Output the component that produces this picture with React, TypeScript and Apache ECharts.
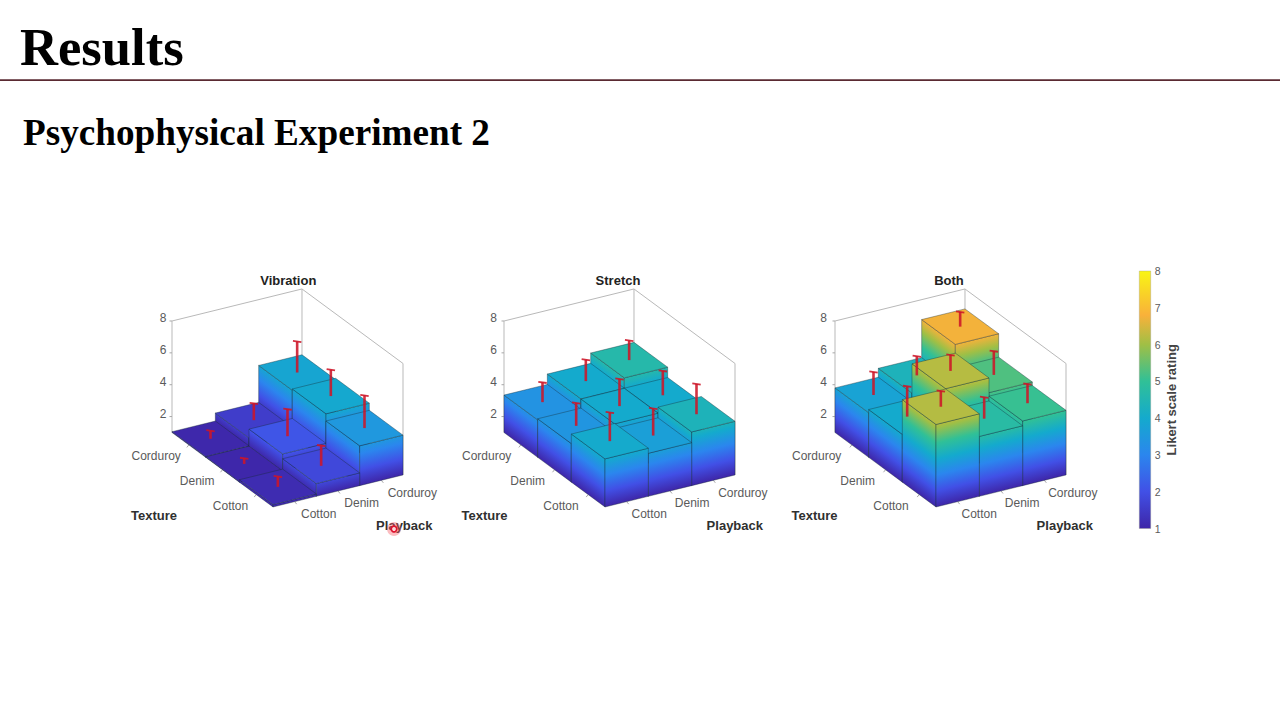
import React, { useEffect, useRef } from "react";
import * as echarts from "echarts";

const slideTitle = "Results";
const slideSubtitle = "Psychophysical Experiment 2";
const panelTitles = ["Vibration", "Stretch", "Both"];
const textureLabels = ["Corduroy", "Denim", "Cotton"];
const playbackLabels = ["Cotton", "Denim", "Corduroy"];
const zTicks = [2, 4, 6, 8];
const colorbarTicks = [1, 2, 3, 4, 5, 6, 7, 8];

// rows: texture (Corduroy, Denim, Cotton); columns: playback (Cotton, Denim, Corduroy)
const vibrationValues = [
  [1.05, 1.55, 3.87],
  [1.03, 2.1, 3.95],
  [1.15, 1.8, 3.5],
];
const vibrationErrors = [
  [0.5, 1.05, 1.95],
  [0.35, 1.7, 1.65],
  [0.65, 1.27, 2.05],
];
const stretchValues = [
  [3.35, 4.0, 4.65],
  [3.42, 3.99, 4.0],
  [4.02, 3.7, 4.37],
];
const stretchErrors = [
  [1.24, 1.34, 1.23],
  [1.43, 1.7, 1.53],
  [1.8, 1.7, 1.9],
];
const bothValues = [
  [3.8, 4.36, 6.75],
  [4.0, 6.2, 5.28],
  [6.18, 4.76, 5.06],
];
const bothErrors = [
  [1.44, 1.2, 0.92],
  [1.9, 1.0, 1.49],
  [0.98, 1.34, 1.2],
];
const panelValues = [vibrationValues, stretchValues, bothValues];
const panelErrors = [vibrationErrors, stretchErrors, bothErrors];

// colour map
const mapRatings = [1, 2, 3, 4, 5, 6, 6.8, 8];
const mapColors = ["#3e26a8", "#4150e6", "#2b86ee", "#14aacd", "#30c097", "#a0bf45", "#f9b13a", "#f9f514"];

// oblique projection of the MATLAB view, in pixels
const stepPX = 43.33;
const stepPY = -10.67;
const stepTX = 33.67;
const stepTY = 24.83;
const stepZ = 15.93;
const originXs = [172, 504, 835];
const originY = 432.5;
const xMin = -2;
const xMax = 6;
const yMin = -5;
const yMax = 11;
const titleCenters = [288.3, 618, 949];
const labelShifts = [0, -1.5, -2.5];

const planeX = (p: number, t: number) => p + (t * stepTX) / stepPX;
const planeY = (p: number, t: number, z: number) => z - (stepPY * p + stepTY * t) / stepZ;

function mix(a: string, b: string, f: number) {
  const pa = [1, 3, 5].map((i) => parseInt(a.slice(i, i + 2), 16));
  const pb = [1, 3, 5].map((i) => parseInt(b.slice(i, i + 2), 16));
  const c = pa.map((v, i) => Math.round(v + (pb[i] - v) * f));
  return `rgb(${c[0]},${c[1]},${c[2]})`;
}
function colorAt(z: number) {
  for (let i = 0; i < mapRatings.length - 1; i++) {
    if (z <= mapRatings[i + 1]) {
      return mix(mapColors[i], mapColors[i + 1], Math.max(0, (z - mapRatings[i]) / (mapRatings[i + 1] - mapRatings[i])));
    }
  }
  return mapColors[mapColors.length - 1];
}
function heightStops(top: number) {
  const span = Math.max(top - 1, 0.01);
  const stops: { offset: number; color: string }[] = [];
  mapRatings.forEach((z, i) => {
    if (z < top) stops.push({ offset: (z - 1) / span, color: mapColors[i] });
  });
  stops.push({ offset: 1, color: colorAt(top) });
  return stops;
}

const EDGE = "rgba(24,44,52,0.55)";
const FRAME = "#b9b9b9";
const TICK_TEXT = "#5a5a5a";
const RED = "rgba(205,22,40,0.88)";
const SANS = "Liberation Sans";

function sideFace(a: number[], b: number[], at: number[], bt: number[], top: number) {
  const ex = b[0] - a[0];
  const ey = b[1] - a[1];
  const len = Math.hypot(ex, ey);
  const nx = -ey / len;
  const ny = ex / len;
  const d = (at[0] - a[0]) * nx + (at[1] - a[1]) * ny;
  return {
    type: "polygon",
    shape: { points: [a, b, bt, at] },
    style: {
      fill: new echarts.graphic.LinearGradient(a[0], a[1], a[0] + nx * d, a[1] + ny * d, heightStops(top), true),
      stroke: EDGE,
      lineWidth: 0.7,
    },
  };
}

function renderBar(_: any, api: any) {
  const p = api.value(0);
  const t = api.value(1);
  const z = api.value(2);
  const at = (pp: number, tt: number, zz: number) => api.coord([planeX(pp, tt), planeY(pp, tt, zz)]);
  const top = {
    type: "polygon",
    shape: { points: [at(p, t, z), at(p + 1, t, z), at(p + 1, t + 1, z), at(p, t + 1, z)] },
    style: { fill: colorAt(z), stroke: EDGE, lineWidth: 0.7 },
  };
  return {
    type: "group",
    children: [
      sideFace(at(p, t, 1), at(p, t + 1, 1), at(p, t, z), at(p, t + 1, z), z),
      sideFace(at(p, t + 1, 1), at(p + 1, t + 1, 1), at(p, t + 1, z), at(p + 1, t + 1, z), z),
      top,
    ],
  };
}

function renderError(_: any, api: any) {
  const p = api.value(0) + 0.5;
  const t = api.value(1) + 0.5;
  const z = api.value(2);
  const e = api.value(3);
  const low = api.coord([planeX(p, t), planeY(p, t, z)]);
  const high = api.coord([planeX(p, t), planeY(p, t, z + e)]);
  return {
    type: "group",
    children: [
      { type: "line", shape: { x1: low[0], y1: low[1], x2: high[0], y2: high[1] }, style: { stroke: RED, lineWidth: 2.6 } },
      {
        type: "line",
        shape: { x1: high[0] - 4.2, y1: high[1] - 0.6, x2: high[0] + 4.2, y2: high[1] + 0.6 },
        style: { stroke: RED, lineWidth: 1.8 },
      },
    ],
  };
}

const renderFrame = (panel: number) => (_: any, api: any) => {
  const shift = labelShifts[panel];
  const at = (pp: number, tt: number, zz: number) => api.coord([planeX(pp, tt), planeY(pp, tt, zz)]);
  const seg = (a: number[], b: number[], stroke = FRAME, lineWidth = 1) => ({
    type: "line",
    shape: { x1: a[0], y1: a[1], x2: b[0], y2: b[1] },
    style: { stroke, lineWidth },
  });
  const children: any[] = [
    seg(at(0, 0, 1), at(0, 0, 8)),
    seg(at(0, 0, 8), at(3, 0, 8)),
    seg(at(3, 0, 8), at(3, 3, 8)),
    seg(at(3, 0, 1), at(3, 0, 8)),
    seg(at(3, 3, 1), at(3, 3, 8)),
  ];
  zTicks.forEach((z) => {
    const a = at(0, 0, z);
    children.push(seg(a, [a[0] - 2.5, a[1]], "#a8a8a8"));
    children.push({
      type: "text",
      x: a[0] - 5.5 + shift,
      y: a[1] - 3,
      style: { text: String(z), fill: TICK_TEXT, font: `12px "${SANS}"`, textAlign: "right", textVerticalAlign: "middle" },
    });
  });
  textureLabels.forEach((label, i) => {
    const a = at(0, i + 0.5, 1);
    children.push(seg(a, [a[0] - 2, a[1] + 2.5], "#a8a8a8"));
    children.push({
      type: "text",
      x: a[0] - 8 + shift,
      y: a[1] + 11,
      style: { text: label, fill: TICK_TEXT, font: `12px "${SANS}"`, textAlign: "right", textVerticalAlign: "middle" },
    });
  });
  playbackLabels.forEach((label, i) => {
    const a = at(i + 0.5, 3, 1);
    children.push(seg(a, [a[0] + 2, a[1] + 2.5], "#a8a8a8"));
    children.push({
      type: "text",
      x: a[0] + 6.3 + shift,
      y: a[1] + 12.3,
      style: { text: label, fill: TICK_TEXT, font: `12px "${SANS}"`, textAlign: "left", textVerticalAlign: "middle" },
    });
  });
  const origin = at(0, 0, 1);
  children.push({
    type: "text",
    x: origin[0] - 18 + shift,
    y: origin[1] + 82.5,
    style: { text: "Texture", fill: "#303030", font: `bold 13px "${SANS}"`, textAlign: "center", textVerticalAlign: "middle" },
  });
  children.push({
    type: "text",
    x: origin[0] + 232.3 + shift,
    y: origin[1] + 93,
    style: { text: "Playback", fill: "#303030", font: `bold 13px "${SANS}"`, textAlign: "center", textVerticalAlign: "middle" },
  });
  return { type: "group", children };
};

function renderColorbar(_: any, api: any) {
  const a = api.coord([0, 8]);
  const b = api.coord([1, 1]);
  const stops = mapRatings.map((z, i) => ({ offset: (8 - z) / 7, color: mapColors[i] })).reverse();
  return {
    type: "rect",
    shape: { x: a[0], y: a[1], width: b[0] - a[0], height: b[1] - a[1] },
    style: { fill: new echarts.graphic.LinearGradient(0, 0, 0, 1, stops), stroke: "rgba(150,150,130,0.6)", lineWidth: 0.6 },
  };
}

function buildOption() {
  const grids: any[] = [];
  const xAxes: any[] = [];
  const yAxes: any[] = [];
  const series: any[] = [];
  const titles: any[] = [
    {
      text: slideTitle,
      left: 20,
      top: 20,
      padding: 0,
      textStyle: { fontFamily: "Liberation Serif", fontWeight: "bold", fontSize: 52.6, color: "#000000" },
    },
    {
      text: slideSubtitle,
      left: 23,
      top: 114,
      padding: 0,
      textStyle: { fontFamily: "Liberation Serif", fontWeight: "bold", fontSize: 37.2, color: "#000000" },
    },
  ];

  panelTitles.forEach((title, i) => {
    const ox = originXs[i];
    const height = (yMax - yMin) * stepZ;
    const bottomEdge = originY + (1 - yMin) * stepZ;
    grids.push({
      left: ox + xMin * stepPX,
      width: (xMax - xMin) * stepPX,
      top: bottomEdge - height,
      height,
      show: false,
    });
    xAxes.push({ type: "value", gridIndex: i, min: xMin, max: xMax, show: false });
    yAxes.push({ type: "value", gridIndex: i, min: yMin, max: yMax, show: false });

    titles.push({
      text: title,
      left: titleCenters[i],
      top: 274,
      padding: 0,
      textAlign: "center",
      textStyle: { fontFamily: SANS, fontWeight: "bold", fontSize: 13, color: "#222222" },
    });

    const cells: number[][] = [];
    for (let t = 0; t < 3; t++) {
      for (let p = 2; p >= 0; p--) {
        cells.push([p, t, panelValues[i][t][p], panelErrors[i][t][p]]);
      }
    }
    const common = { type: "custom", coordinateSystem: "cartesian2d", xAxisIndex: i, yAxisIndex: i, silent: true };
    series.push({ ...common, name: `${title} frame`, data: [[0, 0]], renderItem: renderFrame(i), z: 2 });
    series.push({ ...common, name: title, data: cells, renderItem: renderBar, z: 3 });
    series.push({ ...common, name: `${title} error`, data: cells, renderItem: renderError, z: 4 });
  });

  // colour bar
  grids.push({ left: 1139.3, width: 11.4, top: 271, height: 257.5, show: false });
  xAxes.push({ type: "value", gridIndex: 3, min: 0, max: 1, show: false });
  yAxes.push({
    type: "value",
    gridIndex: 3,
    min: 1,
    max: 8,
    interval: 1,
    position: "right",
    axisLine: { show: false },
    splitLine: { show: false },
    axisTick: { show: false },
    axisLabel: {
      margin: 4,
      color: TICK_TEXT,
      fontFamily: SANS,
      fontSize: 10.5,
      formatter: (v: number) => (colorbarTicks.includes(v) ? String(v) : ""),
    },
    name: "Likert scale rating",
    nameLocation: "middle",
    nameRotate: 90,
    nameGap: 14,
    nameTextStyle: { color: "#444444", fontFamily: SANS, fontWeight: "bold", fontSize: 13 },
  });
  series.push({
    type: "custom",
    coordinateSystem: "cartesian2d",
    xAxisIndex: 3,
    yAxisIndex: 3,
    silent: true,
    data: [[0, 1]],
    renderItem: renderColorbar,
  });

  return {
    animation: false,
    backgroundColor: "#ffffff",
    title: titles,
    grid: grids,
    xAxis: xAxes,
    yAxis: yAxes,
    series,
    graphic: [
      { type: "rect", z: 1, shape: { x: 0, y: 79.2, width: 1280, height: 1.8 }, style: { fill: "#5a2a32" } },
      { type: "circle", z: 100, shape: { cx: 394, cy: 529, r: 7 }, style: { fill: "rgba(248,90,100,0.4)" } },
      {
        type: "circle",
        z: 101,
        shape: { cx: 394, cy: 529, r: 2.8 },
        style: { fill: "rgba(255,225,225,0.95)", stroke: "#dd1530", lineWidth: 1.8 },
      },
    ],
  };
}

export default function App() {
  const ref = useRef<HTMLDivElement>(null);
  useEffect(() => {
    if (!ref.current) return;
    const chart = echarts.init(ref.current, undefined, { renderer: "svg" });
    chart.setOption(buildOption() as any);
    return () => chart.dispose();
  }, []);
  return <div ref={ref} style={{ position: "fixed", left: 0, top: 0, width: 1280, height: 720 }} />;
}
